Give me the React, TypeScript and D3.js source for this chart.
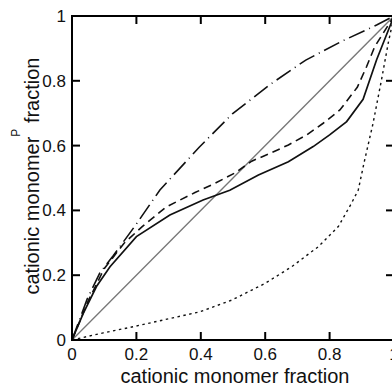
import React from "react";
import * as d3 from "d3";

const W = 392;
const H = 387;

const xTicks = [0, 0.2, 0.4, 0.6, 0.8, 1];
const yTicks = [0, 0.2, 0.4, 0.6, 0.8, 1];
const xTickLabels = ["0", "0.2", "0.4", "0.6", "0.8", "1"];
const yTickLabels = ["0", "0.2", "0.4", "0.6", "0.8", "1"];

const diagX = [0, 1];
const diagY = [0, 1];

const solidX = [0, 0.035, 0.076, 0.118, 0.2, 0.304, 0.407, 0.49, 0.579, 0.672, 0.749, 0.8, 0.853, 0.904, 0.946, 1];
const solidY = [0, 0.082, 0.165, 0.226, 0.319, 0.386, 0.432, 0.462, 0.509, 0.55, 0.597, 0.633, 0.674, 0.743, 0.865, 1];

const dashedX = [0, 0.05, 0.1, 0.161, 0.218, 0.293, 0.382, 0.445, 0.507, 0.558, 0.615, 0.672, 0.729, 0.78, 0.832, 0.886, 0.915, 0.94, 1];
const dashedY = [0, 0.12, 0.22, 0.298, 0.35, 0.411, 0.455, 0.484, 0.516, 0.552, 0.576, 0.602, 0.633, 0.669, 0.71, 0.78, 0.844, 0.905, 1];

const dashDotX = [0, 0.047, 0.087, 0.128, 0.2, 0.273, 0.395, 0.498, 0.617, 0.726, 0.842, 0.946, 1];
const dashDotY = [0, 0.126, 0.208, 0.26, 0.358, 0.463, 0.595, 0.698, 0.79, 0.864, 0.924, 0.972, 1];

const dottedX = [0, 0.097, 0.19, 0.397, 0.496, 0.6, 0.682, 0.765, 0.827, 0.868, 0.889, 0.909, 0.935, 0.961, 0.982, 1];
const dottedY = [0, 0.022, 0.041, 0.087, 0.123, 0.175, 0.226, 0.288, 0.35, 0.422, 0.463, 0.556, 0.669, 0.802, 0.916, 1];

const FONT = "'Liberation Sans', Arial, Helvetica, sans-serif";

export default function App() {
  const x = d3.scaleLinear().domain([0, 1]).range([72, 394]);
  const y = d3.scaleLinear().domain([0, 1]).range([340, 16]);

  const line = d3
    .line<[number, number]>()
    .x((d) => x(d[0]))
    .y((d) => y(d[1]))
    .curve(d3.curveLinear);

  const zip = (a: number[], b: number[]) => a.map((v, i) => [v, b[i]] as [number, number]);

  const tickLen = 8;

  return (
    <svg
      width={W}
      height={H}
      style={{ position: "absolute", left: 0, top: 0, background: "#fff" }}
      fontFamily={FONT}
    >
      <rect x={0} y={0} width={W} height={H} fill="#fff" />
      <path d={line(zip(diagX, diagY)) || ""} fill="none" stroke="#777" strokeWidth={1.3} />
      <path
        d={line(zip(dottedX, dottedY)) || ""}
        fill="none"
        stroke="#111"
        strokeWidth={1.4}
        strokeDasharray="2.5,3.5"
      />
      <path
        d={line(zip(dashDotX, dashDotY)) || ""}
        fill="none"
        stroke="#111"
        strokeWidth={1.6}
        strokeDasharray="17,5,1,5"
      />
      <path
        d={line(zip(dashedX, dashedY)) || ""}
        fill="none"
        stroke="#111"
        strokeWidth={1.6}
        strokeDasharray="8,5"
      />
      <path d={line(zip(solidX, solidY)) || ""} fill="none" stroke="#111" strokeWidth={1.7} />

      <rect
        x={x(0)}
        y={y(1)}
        width={x(1) - x(0)}
        height={y(0) - y(1)}
        fill="none"
        stroke="#000"
        strokeWidth={2}
      />
      {xTicks.slice(1, -1).map((t) => (
        <g key={"xt" + t}>
          <line x1={x(t)} x2={x(t)} y1={y(0)} y2={y(0) - tickLen} stroke="#000" strokeWidth={2} />
          <line x1={x(t)} x2={x(t)} y1={y(1)} y2={y(1) + tickLen} stroke="#000" strokeWidth={2} />
        </g>
      ))}
      {yTicks.slice(1, -1).map((t) => (
        <g key={"yt" + t}>
          <line x1={x(0)} x2={x(0) + tickLen} y1={y(t)} y2={y(t)} stroke="#000" strokeWidth={2} />
          <line x1={x(1)} x2={x(1) - tickLen} y1={y(t)} y2={y(t)} stroke="#000" strokeWidth={2} />
        </g>
      ))}
      {xTicks.map((t, i) => (
        <text key={"xl" + t} x={x(t)} y={360} fontSize={17} textAnchor="middle" fill="#111">
          {xTickLabels[i]}
        </text>
      ))}
      {yTicks.map((t, i) => (
        <text
          key={"yl" + t}
          x={66}
          y={y(t) + 6}
          fontSize={17}
          textAnchor="end"
          fill="#111"
        >
          {yTickLabels[i]}
        </text>
      ))}
      <text x={235} y={383} fontSize={20} textAnchor="middle" fill="#111">
        cationic monomer fraction
      </text>
      <text
        transform="translate(39,176) rotate(-90)"
        fontSize={20}
        textAnchor="middle"
        fill="#111"
      >
        cationic monomer
        <tspan fontSize={12} dy={-19}>P</tspan>
        <tspan dy={19}> fraction</tspan>
      </text>
    </svg>
  );
}
